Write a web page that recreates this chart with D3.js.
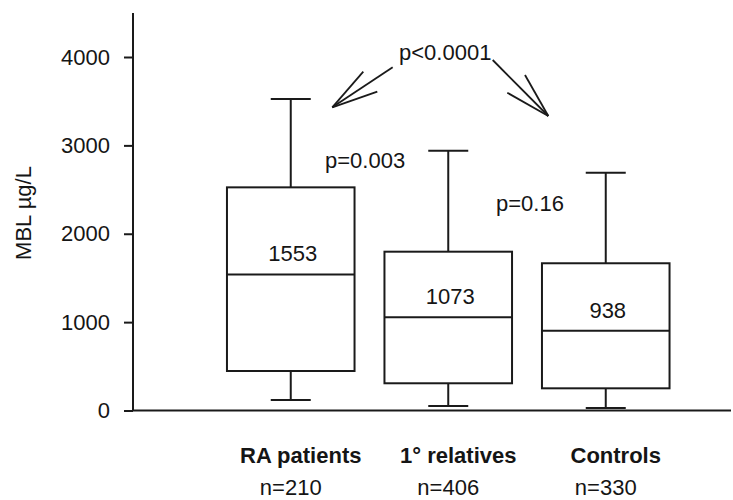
<!DOCTYPE html>
<html>
<head>
<meta charset="utf-8">
<script src="https://cdn.jsdelivr.net/npm/d3@7"></script>
<style>
  body { margin: 0; background: #fff; }
  svg { display: block; font-family: "Liberation Sans", Arial, sans-serif; }
  text { fill: #151515; }
</style>
</head>
<body>
<svg id="chart" width="733" height="500"></svg>
<script>
// MBL levels per group
const groups = ["RA patients", "1° relatives", "Controls"];
const groupN = ["n=210", "n=406", "n=330"];
const whiskerLow = [119, 51, 28];
const q1 = [447, 308, 251];
const median = [1540, 1054, 903];
const q3 = [2525, 1797, 1666];
const whiskerHigh = [3524, 2940, 2691];
const medianLabels = ["1553", "1073", "938"];
const yTicks = [0, 1000, 2000, 3000, 4000];

const ink = "#1a1a1a";
const fs = "22px";
const svg = d3.select("#chart");

const x = d3.scaleBand()
    .domain(groups)
    .range([212, 684.5])
    .paddingInner(0.19)
    .paddingOuter(0.095);

const y = d3.scaleLinear()
    .domain([0, 4000])
    .range([410.5, 57]);

const data = groups.map((g, i) => ({
    group: g, n: groupN[i], lo: whiskerLow[i], q1: q1[i], med: median[i],
    q3: q3[i], hi: whiskerHigh[i], label: medianLabels[i]
}));

// axes
svg.append("line")
    .attr("x1", 133).attr("x2", 133)
    .attr("y1", 13).attr("y2", y(0))
    .attr("stroke", ink).attr("stroke-width", 2);
svg.append("line")
    .attr("x1", 133).attr("x2", 731)
    .attr("y1", y(0)).attr("y2", y(0))
    .attr("stroke", ink).attr("stroke-width", 2);

const yAxis = svg.append("g")
    .attr("transform", "translate(133,0)")
    .call(d3.axisLeft(y).tickValues(yTicks).tickSize(9).tickPadding(14).tickFormat(d3.format("d")));
yAxis.select(".domain").remove();
yAxis.selectAll(".tick line").attr("stroke", ink).attr("stroke-width", 2);
yAxis.selectAll(".tick text")
    .attr("fill", ink)
    .style("font-size", fs)
    .style("font-family", "'Liberation Sans', Arial, sans-serif");

svg.append("text")
    .attr("transform", "translate(31,213) rotate(-90)")
    .attr("text-anchor", "middle")
    .style("font-size", fs)
    .text("MBL µg/L");

// boxes
const cx = d => x(d.group) + x.bandwidth() / 2;
const capW = 40;
const box = svg.append("g").selectAll("g")
    .data(data)
    .enter()
    .append("g")
    .attr("stroke", ink)
    .attr("stroke-width", 2)
    .attr("fill", "none");

box.append("line")
    .attr("x1", cx).attr("x2", cx)
    .attr("y1", d => y(d.hi)).attr("y2", d => y(d.q3));
box.append("line")
    .attr("x1", cx).attr("x2", cx)
    .attr("y1", d => y(d.q1)).attr("y2", d => y(d.lo));
box.append("line")
    .attr("x1", d => cx(d) - capW / 2).attr("x2", d => cx(d) + capW / 2)
    .attr("y1", d => y(d.hi)).attr("y2", d => y(d.hi));
box.append("line")
    .attr("x1", d => cx(d) - capW / 2).attr("x2", d => cx(d) + capW / 2)
    .attr("y1", d => y(d.lo)).attr("y2", d => y(d.lo));
box.append("rect")
    .attr("x", d => x(d.group))
    .attr("width", x.bandwidth())
    .attr("y", d => y(d.q3))
    .attr("height", d => y(d.q1) - y(d.q3))
    .attr("fill", "#fff");
box.append("line")
    .attr("x1", d => x(d.group)).attr("x2", d => x(d.group) + x.bandwidth())
    .attr("y1", d => y(d.med)).attr("y2", d => y(d.med));

// median value labels
svg.append("g").selectAll("text")
    .data(data)
    .enter()
    .append("text")
    .attr("x", d => cx(d) + 2)
    .attr("y", d => y(d.med) - 13)
    .attr("text-anchor", "middle")
    .style("font-size", fs)
    .text(d => d.label);

// category labels
svg.append("g").selectAll("text")
    .data(data)
    .enter()
    .append("text")
    .attr("x", d => cx(d) + 10)
    .attr("y", 463)
    .attr("text-anchor", "middle")
    .style("font-size", fs)
    .style("font-weight", "bold")
    .text(d => d.group);

svg.append("g").selectAll("text")
    .data(data)
    .enter()
    .append("text")
    .attr("x", d => cx(d))
    .attr("y", 495)
    .attr("text-anchor", "middle")
    .style("font-size", fs)
    .text(d => d.n);

// p-value annotations
const pLabels = [
    { text: "p<0.0001", x: 399, y: 60 },
    { text: "p=0.003", x: 325, y: 168 },
    { text: "p=0.16", x: 496, y: 211 }
];
svg.append("g").selectAll("text")
    .data(pLabels)
    .enter()
    .append("text")
    .attr("x", d => d.x)
    .attr("y", d => d.y)
    .style("font-size", fs)
    .text(d => d.text);

// open arrows from p<0.0001 towards RA patients and controls
const arrows = [
    { from: [392.7, 67.3], tip: [332.3, 107.3], barbs: [[363.3, 71.7], [377.3, 91.7]] },
    { from: [492.7, 60], tip: [548.3, 116], barbs: [[525, 75], [507.3, 92.7]] }
];
const ag = svg.append("g").attr("stroke", ink).attr("stroke-width", 1.8).attr("fill", "none");
arrows.forEach(a => {
    ag.append("line")
        .attr("x1", a.from[0]).attr("y1", a.from[1])
        .attr("x2", a.tip[0]).attr("y2", a.tip[1]);
    a.barbs.forEach(b => {
        ag.append("line")
            .attr("x1", b[0]).attr("y1", b[1])
            .attr("x2", a.tip[0]).attr("y2", a.tip[1]);
    });
});
</script>
</body>
</html>
